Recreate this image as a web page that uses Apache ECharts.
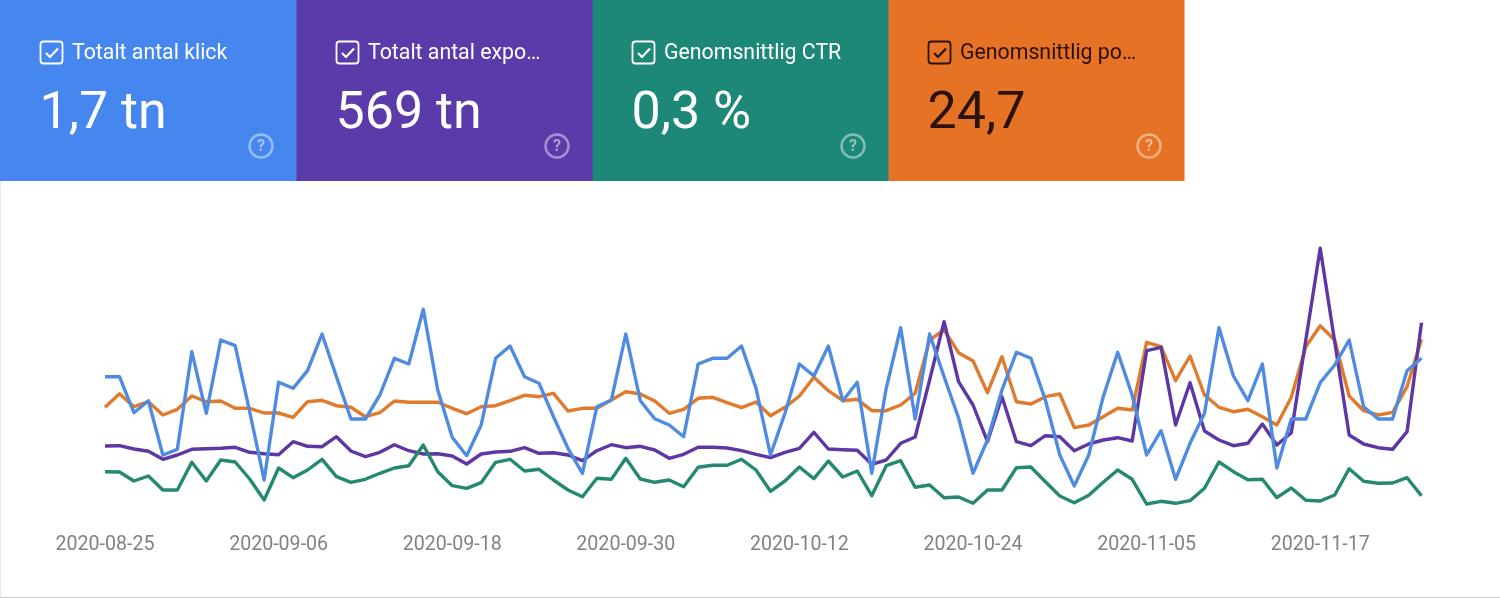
<!DOCTYPE html>
<html>
<head>
<meta charset="utf-8">
<style>html,body{margin:0;padding:0;background:#fff}#c{width:1500px;height:598px}</style>
<script src="https://cdn.jsdelivr.net/npm/echarts@6/dist/echarts.min.js"></script>
</head>
<body>
<div id="c"></div>
<script>
const dates = [
"2020-08-25","2020-08-26","2020-08-27","2020-08-28","2020-08-29","2020-08-30","2020-08-31",
"2020-09-01","2020-09-02","2020-09-03","2020-09-04","2020-09-05","2020-09-06","2020-09-07","2020-09-08","2020-09-09","2020-09-10","2020-09-11","2020-09-12","2020-09-13","2020-09-14","2020-09-15","2020-09-16","2020-09-17","2020-09-18","2020-09-19","2020-09-20","2020-09-21","2020-09-22","2020-09-23","2020-09-24","2020-09-25","2020-09-26","2020-09-27","2020-09-28","2020-09-29","2020-09-30",
"2020-10-01","2020-10-02","2020-10-03","2020-10-04","2020-10-05","2020-10-06","2020-10-07","2020-10-08","2020-10-09","2020-10-10","2020-10-11","2020-10-12","2020-10-13","2020-10-14","2020-10-15","2020-10-16","2020-10-17","2020-10-18","2020-10-19","2020-10-20","2020-10-21","2020-10-22","2020-10-23","2020-10-24","2020-10-25","2020-10-26","2020-10-27","2020-10-28","2020-10-29","2020-10-30","2020-10-31",
"2020-11-01","2020-11-02","2020-11-03","2020-11-04","2020-11-05","2020-11-06","2020-11-07","2020-11-08","2020-11-09","2020-11-10","2020-11-11","2020-11-12","2020-11-13","2020-11-14","2020-11-15","2020-11-16","2020-11-17","2020-11-18","2020-11-19","2020-11-20","2020-11-21","2020-11-22","2020-11-23","2020-11-24"];

const clicks = [143.3,143.3,107.3,119.3,65,70.7,168.3,106.7,180,174.3,108.3,40,137.7,131.7,149.3,186,143.3,101,101,125,161.7,156,210.7,130,82.7,64.3,95,161.7,174,143.3,136.7,
103.3,71.7,46.7,113.3,120,186,119.3,101.3,95,83.3,156,161.7,161.7,174,131.7,65,106.7,156,144,174,119.3,137.7,46.7,131.7,192.3,101,186,143.3,102,46.7,
80,130,167.7,161.7,120,65,34,65,123.3,167.7,125,65,89.3,40.7,76.7,106.7,192.3,144,119.3,156,52,101,101,137.3,155,180,113.3,101,101,149.3,161.7];

const impressions = [74,74.3,71,68.7,60.7,65,70.7,71.3,71.7,72.7,67.7,66.3,65.3,78.3,73.7,73.3,83.3,69,63.3,67.7,75.3,69.3,66,66.3,64,56,66,68,68.7,72.3,66.7,
67.3,65,59.3,69.3,75.3,72.3,73.7,70,61.7,65.7,72.7,72.7,72,69.3,65.7,62.3,67.7,71.7,87.7,71,70.3,69.7,55.7,60,76.7,83,140,198.3,138.3,115,
78.3,123.3,78.3,74.3,84.3,83.3,69.3,76,80,82.3,79,169.3,172.7,95,137.3,89,80,74.3,76.7,96,75,87.3,179.7,271.7,178.3,85,76,72.3,70.7,88.3,197.3];

const ctr = [48.3,48,39,44,30,30,57.7,39,60,58,41,20,52,42.3,50,60.7,43.3,37.7,40.7,46.7,52,54.3,75,48.3,34.3,31.7,37.3,57.7,60.7,49,50.7,
40,30,23.3,41.7,40.7,61.7,41,37.7,40,33.3,52.7,54.7,54.7,60.7,50,28.7,39,53,41.3,59,43,49,24.3,54.3,59.3,32.7,35,22.3,23,16.7,
30,30,52.3,53,38.3,24,17.3,24.7,37.7,50,40.7,16,18.7,16.7,19.3,31.7,58,48.3,40.3,40.7,22.3,32,19.7,19,25,51.3,38.7,36.7,37,42.3,24.3];

const position = [112.7,126.3,113.3,118.3,105,110.7,124,118.3,119,111.7,111.7,107,107,102.7,118.3,119.7,114.3,112.7,103.3,107.3,119,117.7,117.7,117.7,111.7,106.3,113.3,114.3,119.3,124.7,123.3,
126.7,109,111.7,111.7,120,128.3,126,119,106.7,110.7,121.7,122.7,117.3,112.3,118,104.3,112.7,124,142.7,129.3,119.3,120.7,109.3,109.3,115,126.7,180,190,167.3,159,
127.3,163.3,118.3,116,123.3,126,92.3,95,103.3,111.7,110,177.7,173.3,139.3,164,125,112.7,108.3,110.7,103.3,95,122.7,173.3,194.3,180,124,109.3,105,107.7,133.3,180.7];

const cardTitles = ["Totalt antal klick","Totalt antal expo…","Genomsnittlig CTR","Genomsnittlig po…"];
const cardValues = ["1,7 tn","569 tn","0,3 %","24,7"];
const cardColors = ["#4587ee","#5b3aa9","#1e8878","#e57225"];
const cardInk = ["#ffffff","#ffffff","#ffffff","#2b1208"];
const lineColors = {clicks:"#4f8be0",impressions:"#5d37a3",ctr:"#24896f",position:"#e07a2c"};

const CARD_W = 296, CARD_H = 181, FONT = "Roboto, sans-serif";
const graphic = [
  {type:'rect',silent:true,shape:{x:0,y:597,width:1500,height:1},style:{fill:'#c9c9c9'}},
  {type:'rect',silent:true,shape:{x:0,y:181,width:1,height:416},style:{fill:'#e9e9e9'}}
];
cardTitles.forEach((t,i)=>{
  const x = i*CARD_W, ink = cardInk[i];
  graphic.push({type:'rect',silent:true,z:i,shape:{x:x?x+0.5:0,y:0,width:i===3?CARD_W:CARD_W+(x?2:3),height:CARD_H},style:{fill:cardColors[i]}});
  graphic.push({type:'rect',silent:true,z:10,shape:{x:x+40.5,y:41.5,width:22,height:22,r:3},style:{fill:'none',stroke:ink,lineWidth:1.8}});
  graphic.push({type:'polyline',silent:true,z:10,shape:{points:[[x+46,53],[x+50,57],[x+58,48.5]]},style:{fill:'none',stroke:ink,lineWidth:2.2}});
  graphic.push({type:'text',silent:true,z:10,style:{x:x+72,y:54,text:t,fill:ink,font:'400 21.3px '+FONT,textVerticalAlign:'middle'}});
  graphic.push({type:'text',silent:true,z:10,style:{x:x+39.5,y:115,text:cardValues[i],fill:ink,font:'400 52px '+FONT,textVerticalAlign:'middle'}});
  graphic.push({type:'circle',silent:true,z:10,shape:{cx:x+261,cy:146,r:11.5},style:{fill:'none',stroke:'#ffffff',opacity:0.45,lineWidth:2.4}});
  graphic.push({type:'text',silent:true,z:10,style:{x:x+261,y:147,text:'?',fill:'#ffffff',opacity:0.5,font:'700 16px '+FONT,textAlign:'center',textVerticalAlign:'middle'}});
});

const line = (name,data,color,z)=>({name,type:'line',data,z,symbol:'none',smooth:false,silent:true,animation:false,
  lineStyle:{color,width:3.4,join:'round'}});

const chart = echarts.init(document.getElementById('c'),null,{renderer:'canvas'});
chart.setOption({
  animation:false,
  backgroundColor:'#ffffff',
  grid:{left:105,right:78.5,top:200,height:320,containLabel:false},
  xAxis:{type:'category',data:dates,boundaryGap:false,
    axisLine:{show:false},axisTick:{show:false},splitLine:{show:false},
    axisLabel:{interval:11,color:'#828282',fontFamily:'Roboto, sans-serif',fontSize:19.6,margin:15,hideOverlap:false}},
  yAxis:{type:'value',min:0,max:320,show:false},
  series:[
    line('Genomsnittlig position',position,lineColors.position,2),
    line('Totalt antal exponeringar',impressions,lineColors.impressions,3),
    line('Genomsnittlig CTR',ctr,lineColors.ctr,4),
    line('Totalt antal klick',clicks,lineColors.clicks,5)
  ],
  graphic:graphic
});
</script>
</body>
</html>
